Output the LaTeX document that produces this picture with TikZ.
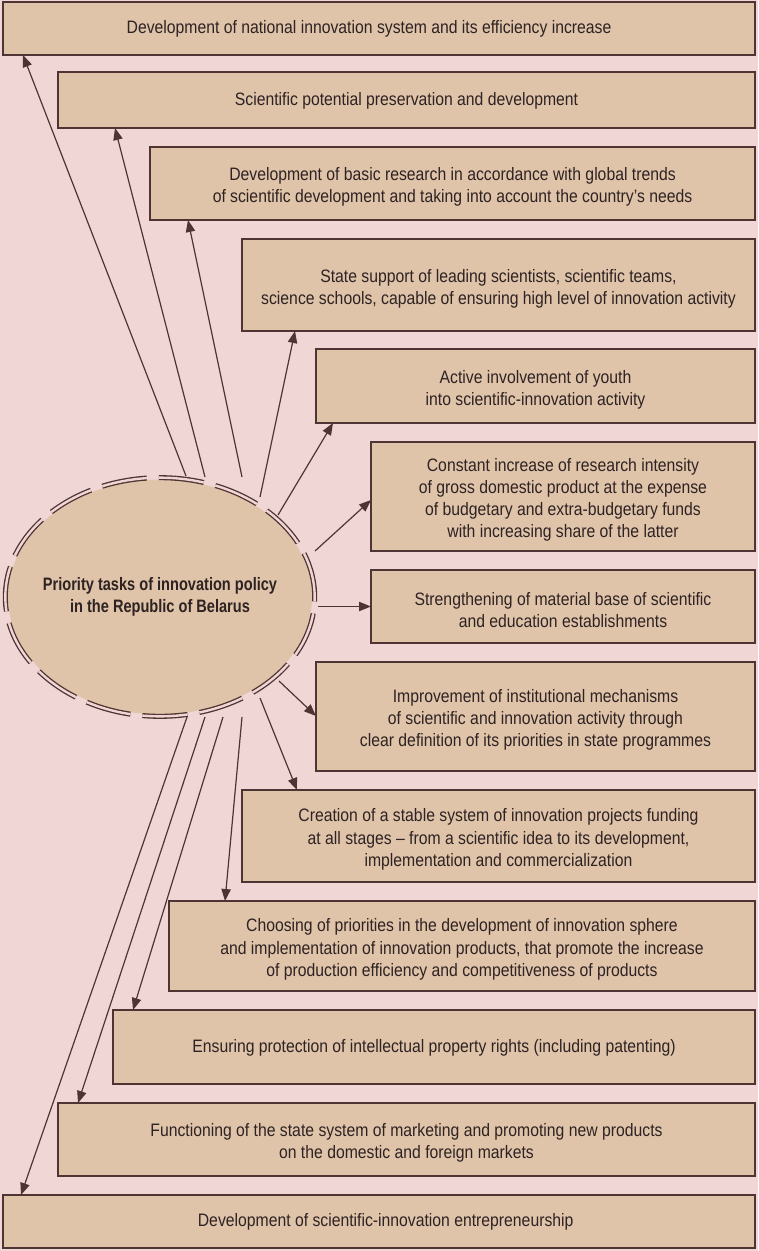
\documentclass[tikz,border=0pt]{standalone}
\usepackage{fontspec}
\setmainfont[FakeStretch=0.875]{Liberation Sans}
\newfontfamily\titlefont[FakeStretch=0.81]{Liberation Sans}
\usetikzlibrary{arrows.meta,shapes.geometric,calc}
\definecolor{bg}{HTML}{F1D6D6}
\definecolor{boxfill}{HTML}{DFC4AA}
\definecolor{edge}{HTML}{4E3533}
\definecolor{ink}{HTML}{2E2222}
\newcommand\mybox[6][yshift=-2.6pt]{% [text shift] name, left, top, bottom, text
  \pgfmathsetmacro\bw{(755-#3)*0.75}%
  \pgfmathsetmacro\bh{(#5-#4)*0.75}%
  \node[box, minimum width=\bw pt, minimum height=\bh pt] (#2) at ({(#3+755)/2},{(#4+#5)/2}) {};%
  \node[boxtext] (#2t) at ([#1]#2.center) {#6};%
}
\begin{document}
\begin{tikzpicture}[x=0.75pt,y=-0.75pt,
  box/.style={draw=edge, line width=1.1pt, fill=boxfill, inner sep=0pt, outer sep=0pt},
  boxtext/.style={inner sep=0pt, align=center, text=ink, font=\fontsize{13.5}{16.6}\selectfont},
  arr/.style={draw=edge, line width=0.9pt, -{Triangle[length=9pt,width=7pt]}},
  ellborder/.style={draw=edge, line width=1pt, double=bg, double distance=1.8pt, dash pattern=on 34pt off 9pt},
  title/.style={align=center, text=ink, font=\titlefont\bfseries\fontsize{13.5}{16.5}\selectfont},
]
\fill[bg] (0,0) rectangle (758,1251);
\useasboundingbox (0,0) rectangle (758,1251);

% central ellipse
\node[ellipse, fill=boxfill, inner sep=0pt, minimum width=228pt, minimum height=176pt] (ell) at (160,597) {};
\draw[ellborder] (ell.center) ellipse [x radius=116pt, y radius=89.5pt];
\node[title] (ttl) at (ell.center) {Priority tasks of innovation policy\\in the Republic of Belarus};

% boxes
\mybox[xshift=-7.5pt,yshift=-0.4pt]{b1}{3}{2}{55}{Development of national innovation system and its efficiency increase}
\mybox[yshift=-0.6pt]{b2}{58}{72}{128}{Scientific potential preservation and development}
\mybox{b3}{150}{147}{220}{Development of basic research in accordance with global trends\\of scientific development and taking into account the country’s needs}
\mybox{b4}{242}{239}{331}{State support of leading scientists, scientific teams,\\science schools, capable of ensuring high level of innovation activity}
\mybox{b5}{316}{349}{423}{Active involvement of youth\\into scientific-innovation activity}
\mybox{b6}{371}{442}{551}{Constant increase of research intensity\\of gross domestic product at the expense\\of budgetary and extra-budgetary funds\\with increasing share of the latter}
\mybox{b7}{371}{570}{643}{Strengthening of material base of scientific\\and education establishments}
\mybox{b8}{316}{662}{771}{Improvement of institutional mechanisms\\of scientific and innovation activity through\\clear definition of its priorities in state programmes}
\mybox{b9}{242}{790}{882}{Creation of a stable system of innovation projects funding\\at all stages – from a scientific idea to its development,\\implementation and commercialization}
\mybox{b10}{169}{901}{991}{Choosing of priorities in the development of innovation sphere\\and implementation of innovation products, that promote the increase\\of production efficiency and competitiveness of products}
\mybox[yshift=-0.8pt]{b11}{113}{1010}{1084}{Ensuring protection of intellectual property rights (including patenting)}
\mybox{b12}{58}{1103}{1176}{Functioning of the state system of marketing and promoting new products\\on the domestic and foreign markets}
\mybox[xshift=5pt,yshift=-0.6pt]{b13}{3}{1195}{1248}{Development of scientific-innovation entrepreneurship}

% arrow start points
\coordinate (s1) at (186,476);
\coordinate (s2) at (205,477);
\coordinate (s3) at (242,477);
\coordinate (s4) at (260,497);
\coordinate (s5) at (278,515);
\coordinate (s6) at (315,551);
\coordinate (s7) at (318,606.5);
\coordinate (s8) at (279,681);
\coordinate (s9) at (260,698);
\coordinate (s10) at (242,717);
\coordinate (s11) at (223,717);
\coordinate (s12) at (205,717);
\coordinate (s13) at (187,717);

\draw[arr] (s1) -- ($(b1.south west)+(20,0)$);
\draw[arr] (s2) -- ($(b2.south west)+(57,0)$);
\draw[arr] (s3) -- ($(b3.south west)+(38,0)$);
\draw[arr] (s4) -- ($(b4.south west)+(53,0)$);
\draw[arr] (s5) -- ($(b5.south west)+(17,0)$);
\draw[arr] (s6) -- ($(b6.north west)+(0,58)$);
\draw[arr] (s7) -- (b7.west);
\draw[arr] (s8) -- ($(b8.north west)+(0,54)$);
\draw[arr] (s9) -- ($(b9.north west)+(55,0)$);
\draw[arr] (s10) -- ($(b10.north west)+(56,0)$);
\draw[arr] (s11) -- ($(b11.north west)+(20,0)$);
\draw[arr] (s12) -- ($(b12.north west)+(20,0)$);
\draw[arr] (s13) -- ($(b13.north west)+(18,0)$);
\end{tikzpicture}
\end{document}
